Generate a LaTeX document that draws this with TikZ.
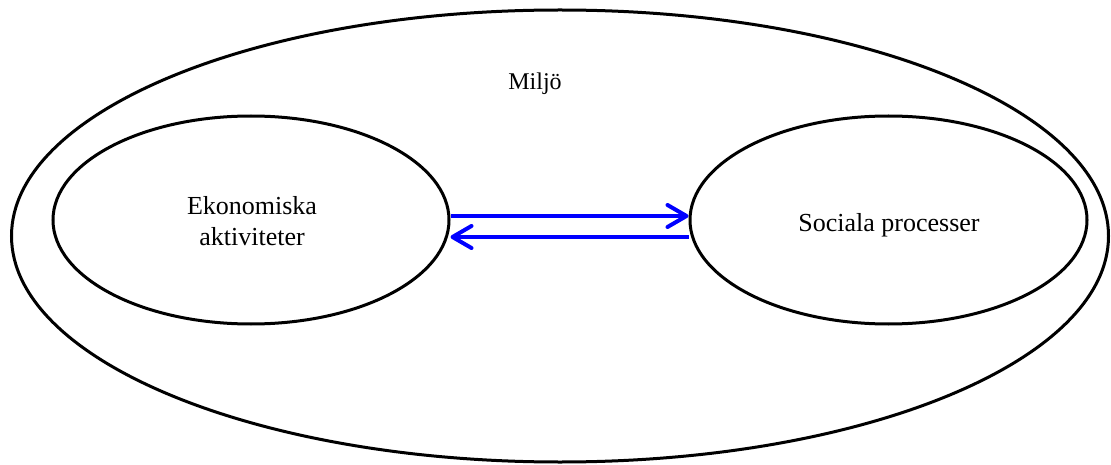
\documentclass[tikz,border=0pt]{standalone}
\usepackage{fontspec}
\setmainfont{Liberation Serif}
\usetikzlibrary{shapes.geometric,arrows.meta}
\begin{document}
\begin{tikzpicture}[x=1pt,y=-1pt,
  region/.style={draw=black,line width=3pt,ellipse,inner sep=0pt},
  label/.style={font=\fontsize{26}{31}\selectfont,align=center,inner sep=0pt},
  flow/.style={draw={rgb,255:red,0;green,0;blue,255},line width=4pt,
    -{Straight Barb[length=19pt,width=22pt,round]}}]
  \useasboundingbox (0,0) rectangle (1111,465);
  % surrounding environment
  \node[region,minimum width=1097pt,minimum height=452pt] (env) at (560,236) {};
  \node[label,font=\fontsize{24}{29}\selectfont,anchor=base] (envlbl) at (535,90) {Miljö};
  % the two subsystems
  \node[region,minimum width=396pt,minimum height=208pt] (eko) at (251,220) {};
  \node[region,minimum width=397pt,minimum height=208pt] (soc) at (888.5,220) {};
  \node[label,anchor=base] (ekolbl) at (252,245) {Ekonomiska\\aktiviteter};
  \node[label,anchor=base] (soclbl) at (889,232) {Sociala processer};
  % exchange between them
  \draw[flow] ([yshift=4pt]eko.east) -- ([yshift=4pt]soc.west);
  \draw[flow] ([yshift=-17pt]soc.west) -- ([yshift=-17pt]eko.east);
\end{tikzpicture}
\end{document}
